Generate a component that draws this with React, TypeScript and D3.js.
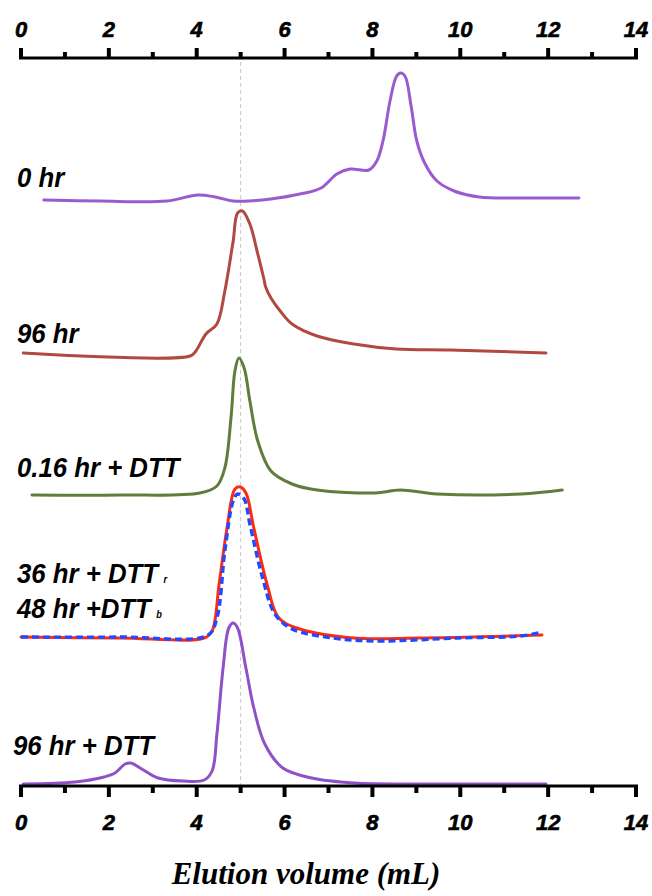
import React from "react";
import * as d3 from "d3";

// elution volume (mL) vs. relative absorbance, stacked traces
const xTicks = d3.range(0, 15);
const xLabels = [0, 2, 4, 6, 8, 10, 12, 14];

const trace0hr: [number, number][] = [
  [0.52, 0], [1.8, -0.1], [3.32, -0.1], [4.03, 0.5], [4.42, 0.3], [4.83, -0.1],
  [5.21, -0.1], [5.69, 0.1], [6.35, 0.6], [6.83, 1.2], [7.19, 2.6], [7.49, 3.1],
  [7.92, 3.0], [8.1, 3.9], [8.24, 5.9], [8.4, 9.9], [8.54, 12.3], [8.63, 12.7],
  [8.74, 12.4], [8.88, 9.4], [9.01, 5.9], [9.2, 3.6], [9.47, 1.9], [9.86, 0.9],
  [10.43, 0.3], [11.36, 0.2], [12.7, 0.2],
];
const trace96hr: [number, number][] = [
  [0.05, 0], [3.85, -0.3], [3.98, 0.2], [4.21, 1.9], [4.46, 2.9], [4.64, 6.2],
  [4.83, 11.2], [4.93, 14.0], [5.04, 14.2], [5.21, 12.9], [5.39, 9.9], [5.53, 7.4],
  [5.57, 6.6], [5.69, 5.5], [5.9, 4.2], [6.17, 2.9], [6.74, 1.7], [7.58, 0.9],
  [8.54, 0.4], [9.77, 0.3], [11.95, 0],
];
const trace016DTT: [number, number][] = [
  [0.25, -0.2], [2.25, -0.2], [4.07, 0], [4.46, 0.7], [4.64, 2.5], [4.78, 7.5],
  [4.87, 12.2], [4.96, 13.5], [5.08, 12.5], [5.21, 9.2], [5.39, 5.2], [5.69, 2.2],
  [6.17, 0.9], [6.74, 0.3], [8.06, 0], [8.63, 0.3], [9.47, -0.1], [11.38, -0.1],
  [12.32, 0.3],
];
const trace36DTT: [number, number][] = [
  [0, 0], [2.25, -0.1], [4.17, -0.1], [4.35, 0.6], [4.51, 5.3], [4.69, 10.9],
  [4.87, 14.8], [4.99, 15.0], [5.12, 14.4], [5.3, 10.9], [5.6, 5.3], [5.87, 1.9],
  [6.35, 0.8], [7.58, -0.1], [9.01, -0.1], [11.86, 0.2],
];
const trace48DTT: [number, number][] = [
  [0, 0], [2.25, 0], [4.26, 0.2], [4.46, 1.9], [4.64, 8.6], [4.83, 13.6],
  [4.93, 14.3], [5.08, 13.8], [5.21, 11.3], [5.5, 5.9], [5.78, 2.3], [6.17, 0.8],
  [7.1, -0.1], [8.06, -0.4], [9.95, -0.1], [11.38, 0.1], [11.86, 0.5],
];
const trace96DTT: [number, number][] = [
  [0.05, 0], [1.23, 0.2], [1.89, 0.7], [2.14, 1.1], [2.37, 2.0], [2.5, 2.1],
  [2.75, 1.5], [3.12, 0.6], [3.69, 0.3], [4.17, 0.4], [4.35, 1.3], [4.46, 5.0],
  [4.6, 11.6], [4.73, 15.6], [4.83, 16.1], [4.93, 15.6], [5.12, 11.6], [5.3, 7.6],
  [5.55, 4.0], [5.96, 1.6], [6.62, 0.6], [7.58, 0.1], [9.01, 0], [11.95, 0],
];

const traces = [
  { name: "0 hr", data: trace0hr, offset: 58.6, color: "#9b5bd0", dash: null as string | null },
  { name: "96 hr", data: trace96hr, offset: 43.3, color: "#b04a40", dash: null },
  { name: "0.16 hr + DTT", data: trace016DTT, offset: 29.3, color: "#5f7d3b", dash: null },
  { name: "36 hr + DTT", data: trace36DTT, offset: 14.9, color: "#ff2a12", dash: null },
  { name: "48 hr +DTT", data: trace48DTT, offset: 14.9, color: "#2149ff", dash: "7,4" },
  { name: "96 hr + DTT", data: trace96DTT, offset: 0.2, color: "#9050c8", dash: null },
];

const labels = [
  { text: "0 hr", x: 17, y: 187, sub: "" },
  { text: "96 hr", x: 17, y: 343, sub: "" },
  { text: "0.16 hr + DTT", x: 17, y: 477, sub: "" },
  { text: "36 hr + DTT", x: 17, y: 583, sub: "r" },
  { text: "48 hr +DTT", x: 17, y: 618, sub: "b" },
  { text: "96 hr + DTT", x: 13, y: 755, sub: "" },
];

const W = 652;
const H = 896;
const left = 21;
const right = 636;
const topAxis = 58;
const bottomAxis = 786;

export default function App() {
  const x = d3.scaleLinear().domain([0, 14]).range([left, right]);
  const y = d3.scaleLinear().domain([0, 72.8]).range([bottomAxis, topAxis]);

  const lineFor = (offset: number) =>
    d3
      .line<[number, number]>()
      .x((d) => x(d[0]))
      .y((d) => y(d[1] + offset))
      .curve(d3.curveCatmullRom.alpha(0.5));

  const sans = "'Liberation Sans', Arial, sans-serif";

  return (
    <svg
      width={W}
      height={H}
      style={{ position: "absolute", left: 0, top: 0, background: "#fff" }}
    >
      {/* reference line at 5 mL */}
      <line
        x1={x(5)}
        x2={x(5)}
        y1={topAxis + 4}
        y2={bottomAxis}
        stroke="#c8c8c8"
        strokeWidth={1}
        strokeDasharray="4,3"
      />

      {/* top axis */}
      <line x1={x(0) - 2} x2={x(14) + 2} y1={topAxis} y2={topAxis} stroke="#000" strokeWidth={3} />
      {xTicks.map((t) => (
        <line
          key={"tt" + t}
          x1={x(t)}
          x2={x(t)}
          y1={topAxis}
          y2={topAxis - (t % 2 === 0 ? 10 : 6)}
          stroke="#000"
          strokeWidth={4}
        />
      ))}
      {xLabels.map((t) => (
        <text
          key={"tl" + t}
          x={x(t)}
          y={37}
          textAnchor="middle"
          fontFamily={sans}
          fontWeight="bold"
          fontStyle="italic"
          fontSize={22}
          stroke="#000"
          strokeWidth={0.6}
          fill="#000"
        >
          {t}
        </text>
      ))}

      {/* traces */}
      {traces.map((s) => (
        <path
          key={s.name}
          d={lineFor(s.offset)(s.data) || ""}
          fill="none"
          stroke={s.color}
          strokeWidth={s.dash ? 3.4 : 3}
          strokeDasharray={s.dash || undefined}
          strokeLinejoin="round"
          strokeLinecap={s.dash ? "butt" : "round"}
        />
      ))}

      {/* bottom axis */}
      <line x1={x(0) - 2} x2={x(14) + 2} y1={bottomAxis} y2={bottomAxis} stroke="#000" strokeWidth={3} />
      {xTicks.map((t) => (
        <line
          key={"bt" + t}
          x1={x(t)}
          x2={x(t)}
          y1={bottomAxis}
          y2={bottomAxis + (t % 2 === 0 ? 11 : 7)}
          stroke="#000"
          strokeWidth={4}
        />
      ))}
      {xLabels.map((t) => (
        <text
          key={"bl" + t}
          x={x(t)}
          y={830}
          textAnchor="middle"
          fontFamily={sans}
          fontWeight="bold"
          fontStyle="italic"
          fontSize={22}
          stroke="#000"
          strokeWidth={0.6}
          fill="#000"
        >
          {t}
        </text>
      ))}

      {/* trace labels, slightly condensed */}
      {labels.map((l) => (
        <text
          key={l.text}
          transform={`translate(${l.x},${l.y}) scale(0.92,1)`}
          fontFamily={sans}
          fontWeight="bold"
          fontStyle="italic"
          fontSize={28}
          fill="#000"
        >
          {l.text}
          {l.sub && (
            <tspan fontSize={10} dx={6}>
              {l.sub}
            </tspan>
          )}
        </text>
      ))}

      <text
        x={306}
        y={884}
        textAnchor="middle"
        fontFamily="'Liberation Serif', 'Times New Roman', serif"
        fontWeight="bold"
        fontStyle="italic"
        fontSize={31}
        fill="#000"
      >
        Elution volume (mL)
      </text>
    </svg>
  );
}
